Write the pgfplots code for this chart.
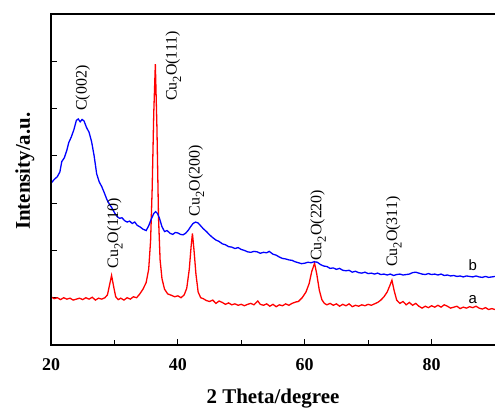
\documentclass[border=0pt]{standalone}
\usepackage{fontspec}
\setmainfont{Liberation Serif}
\newfontfamily\arialfont{Liberation Sans}
\usepackage{pgfplots}
\pgfplotsset{compat=1.18}
\newcommand{\cuo}{Cu\raisebox{-0.28em}{\fontsize{12.5}{13}\selectfont 2}O}

\begin{document}
\begin{tikzpicture}
\begin{axis}[
  name=ax,
  scale only axis,
  width=444bp, height=331bp,
  xmin=20, xmax=90, ymin=0, ymax=7,
  axis line style={draw=none},
  xtick={20,40,60,80}, minor xtick={30,50,70},
  ytick={1,2,3,4,5,6}, yticklabels={},
  xtick pos=left, ytick pos=left,
  tick align=inside,
  major tick length=6bp, minor tick length=5bp,
  every tick/.style={black, line width=1.2bp},
  minor tick style={black, line width=1.2bp},
  /pgf/number format/assume math mode=true,
  xticklabel style={font=\fontsize{18}{20}\selectfont\bfseries, anchor=base, yshift=-25bp},
  xlabel={2 Theta/degree}, ylabel={Intensity/a.u.},
  label style={font=\fontsize{21}{24}\selectfont\bfseries},
  xlabel style={at={(axis description cs:0.5,0)}, anchor=base, yshift=-58bp},
  ylabel style={at={(axis description cs:-0.0473,0.525)}, anchor=base},
  clip mode=individual,
]
% curve a (red)
\addplot[red, line width=1.3bp] coordinates {
(20,1.02) (20.5,0.98) (21,1.0) (21.5,0.96) (22,1.0) (22.5,0.97) (23,0.99) (23.5,0.95)
(24,0.97) (24.5,0.99) (25,0.96) (25.5,1.0) (26,0.97) (26.5,1.01) (27,0.95) (27.5,0.99)
(28,0.97) (28.5,1.0) (28.9,1.06) (29.2,1.25) (29.55,1.47) (29.9,1.22) (30.2,1.02) (30.6,0.96)
(31,0.99) (31.5,0.95) (32,1.0) (32.5,0.97) (33,1.02) (33.5,1.0) (34,1.08) (34.5,1.18)
(35,1.32) (35.4,1.6) (35.7,2.2) (35.95,3.3) (36.2,4.9) (36.45,5.94) (36.7,4.6) (36.95,2.7)
(37.2,1.8) (37.5,1.4) (37.9,1.18) (38.4,1.08) (39,1.05) (39.5,1.02) (40,1.04) (40.5,1.0)
(41,1.06) (41.4,1.2) (41.8,1.6) (42.1,2.1) (42.3,2.36) (42.55,2.0) (42.85,1.5) (43.2,1.12)
(43.6,1.0) (44,0.98) (44.5,0.94) (45,0.92) (45.5,0.95) (46,0.88) (46.5,0.93) (47,0.9)
(47.5,0.86) (48,0.89) (48.5,0.85) (49,0.87) (49.5,0.84) (50,0.86) (50.5,0.83) (51,0.86)
(51.5,0.88) (52,0.85) (52.6,0.93) (53,0.86) (53.5,0.84) (54,0.87) (54.5,0.82) (55,0.86)
(55.5,0.81) (56,0.85) (56.5,0.83) (57,0.87) (57.5,0.84) (58,0.88) (58.6,0.91) (59,0.92)
(59.6,1.0) (60.2,1.12) (60.7,1.3) (61.1,1.55) (61.55,1.73) (61.9,1.5) (62.3,1.16) (62.7,0.96)
(63.1,0.88) (63.5,0.85) (64,0.88) (64.5,0.84) (65,0.87) (65.5,0.82) (66,0.86) (66.5,0.83)
(67,0.87) (67.5,0.81) (68,0.84) (68.5,0.82) (69,0.85) (69.5,0.83) (70,0.86) (70.5,0.84)
(71,0.87) (71.5,0.9) (72,0.95) (72.5,1.02) (73,1.12) (73.4,1.25) (73.75,1.37) (74.1,1.15)
(74.5,0.95) (75,0.88) (75.5,0.92) (76,0.85) (76.5,0.9) (77,0.84) (77.5,0.88) (78,0.82)
(78.5,0.78) (79,0.82) (79.5,0.79) (80,0.83) (80.5,0.8) (81,0.84) (81.5,0.8) (82,0.85)
(82.5,0.82) (83,0.78) (83.5,0.8) (84,0.82) (84.5,0.77) (85,0.8) (85.5,0.78) (86,0.81)
(86.5,0.79) (87,0.82) (87.5,0.78) (88,0.76) (88.5,0.79) (89,0.75) (89.5,0.77) (90,0.75)
};
% curve b (blue)
\addplot[blue, line width=1.3bp] coordinates {
(20,3.42) (20.5,3.5) (21,3.56) (21.4,3.66) (21.7,3.88) (22.1,3.96) (22.5,4.12) (22.8,4.28)
(23.2,4.4) (23.6,4.55) (24,4.75) (24.3,4.78) (24.6,4.72) (24.9,4.77) (25.2,4.74) (25.6,4.6)
(26,4.5) (26.4,4.3) (26.8,4.0) (27.2,3.62) (27.6,3.45) (28,3.35) (28.4,3.22) (28.8,3.08)
(29.2,2.98) (29.6,2.9) (30,2.8) (30.4,2.72) (30.8,2.68) (31.2,2.69) (31.6,2.63) (32,2.6)
(32.4,2.62) (32.8,2.57) (33.2,2.6) (33.6,2.53) (34,2.5) (34.5,2.45) (35,2.42) (35.4,2.52)
(35.8,2.66) (36.2,2.78) (36.5,2.82) (36.8,2.78) (37.1,2.68) (37.5,2.5) (37.9,2.4) (38.3,2.42)
(38.8,2.36) (39.2,2.34) (39.6,2.38) (40,2.37) (40.4,2.34) (40.8,2.33) (41.2,2.36) (41.6,2.42)
(42,2.5) (42.4,2.57) (42.8,2.6) (43.2,2.58) (43.6,2.52) (44,2.46) (44.5,2.4) (45,2.33)
(45.5,2.27) (46,2.22) (46.5,2.19) (47,2.14) (47.5,2.12) (48,2.08) (48.5,2.07) (49,2.04)
(49.5,2.06) (50,2.02) (50.5,2.0) (51,1.97) (51.5,1.96) (52,1.98) (52.5,1.97) (53,1.94)
(53.5,1.96) (54,1.95) (54.4,1.98) (55,1.92) (55.5,1.9) (56,1.86) (56.5,1.83) (57,1.82)
(57.5,1.8) (58,1.79) (58.5,1.76) (59,1.74) (59.5,1.72) (60,1.73) (60.5,1.75) (61,1.74)
(61.5,1.76) (62,1.75) (62.5,1.7) (63,1.67) (63.5,1.66) (64,1.62) (64.5,1.63) (65,1.6)
(65.5,1.62) (66,1.58) (66.5,1.57) (67,1.58) (67.5,1.54) (68,1.56) (68.5,1.53) (69,1.52)
(69.5,1.54) (70,1.51) (70.5,1.52) (71,1.5) (71.5,1.52) (72,1.49) (72.5,1.5) (73,1.48)
(73.5,1.5) (74,1.47) (74.5,1.49) (75,1.5) (75.5,1.48) (76,1.49) (76.5,1.5) (77,1.53)
(77.5,1.54) (78,1.52) (78.5,1.5) (79,1.49) (79.5,1.51) (80,1.49) (80.5,1.5) (81,1.48)
(81.5,1.5) (82,1.47) (82.5,1.48) (83,1.46) (83.5,1.47) (84,1.45) (84.5,1.46) (85,1.44)
(85.5,1.46) (86,1.45) (86.5,1.44) (87,1.46) (87.5,1.44) (88,1.43) (88.5,1.45) (89,1.43)
(89.5,1.44) (90,1.45)
};
% peak labels
\begin{scope}[every node/.style={rotate=90, anchor=west, inner sep=0pt, font=\fontsize{16}{18}\selectfont}]
\node at (axis cs:25.03,4.95) {C(002)};
\node at (axis cs:39.3,5.16) {\cuo(111)};
\node at (axis cs:42.9,2.72) {\cuo(200)};
\node at (axis cs:30.05,1.62) {\cuo(110)};
\node at (axis cs:62.1,1.78) {\cuo(220)};
\node at (axis cs:74.05,1.65) {\cuo(311)};
\end{scope}
\node[anchor=base, font=\arialfont\fontsize{15}{17}\selectfont] at (axis cs:86.5,1.58) {b};
\node[anchor=base, font=\arialfont\fontsize{15}{17}\selectfont] at (axis cs:86.5,0.88) {a};
\end{axis}
\draw[line width=1.4bp] (ax.north east) -- (ax.north west) -- (ax.south west) -- (ax.south east);
\pgfresetboundingbox
\useasboundingbox ([xshift=-51bp,yshift=-63bp]ax.south west) rectangle ([yshift=14bp]ax.north east);
\end{tikzpicture}
\end{document}
